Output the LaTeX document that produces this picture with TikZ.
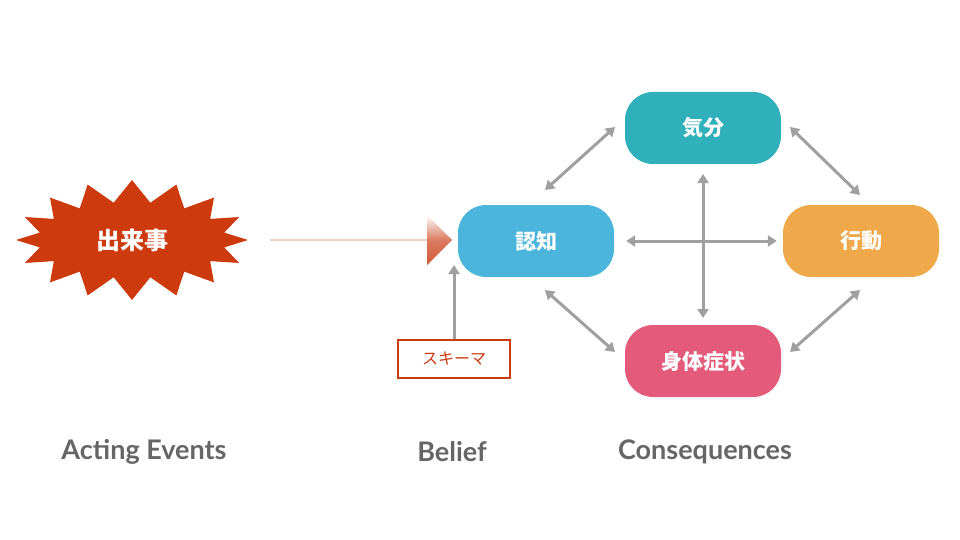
\documentclass[tikz,border=0pt]{standalone}
\usepackage{fontspec}
\setmainfont{Lato}
\newfontfamily\cjk{Noto Sans CJK JP}
\usetikzlibrary{shapes.symbols,arrows.meta,shapes.arrows,calc}
\definecolor{teal1}{HTML}{2FB0BA}
\definecolor{blue1}{HTML}{4BB5DC}
\definecolor{orange1}{HTML}{F0A94A}
\definecolor{pink1}{HTML}{E45A7A}
\definecolor{red1}{HTML}{CC3A0E}
\definecolor{arr}{HTML}{D25A38}
\definecolor{gr}{HTML}{A0A0A0}
\definecolor{txt}{HTML}{666666}
\begin{document}
\begin{tikzpicture}[x=1pt,y=-1pt,
 box/.style={rounded corners=28pt,minimum width=156pt,minimum height=72pt,text=white,font=\cjk\bfseries\fontsize{21}{24}\selectfont},
 dbl/.style={gr,line width=3pt,{Triangle[length=9pt,width=11pt]}-{Triangle[length=9pt,width=11pt]}},
 lab/.style={txt,font=\bfseries\fontsize{27}{30}\selectfont}]
\useasboundingbox (0,0) rectangle (960,540);
\node[starburst,starburst points=16,starburst point height=22pt,random starburst=0,fill=red1,minimum width=232pt,minimum height=120pt,text=white,font=\cjk\bfseries\fontsize{24}{28}\selectfont] (ev) at (132,240) {出来事};
\node[box,fill=teal1] (mood) at (703,128) {気分};
\node[box,fill=blue1] (cog) at (536,241) {認知};
\node[box,fill=orange1] (act) at (861,241) {行動};
\node[box,fill=pink1] (body) at (703,361) {身体症状};
\node[draw=red1,line width=1.5pt,minimum width=112pt,minimum height=38pt,text=red1,font=\cjk\fontsize{16}{18}\selectfont] (sch) at (454,359) {スキーマ};
\node[single arrow,minimum height=182pt,minimum width=50pt,single arrow head extend=13pt,single arrow tip angle=90,left color=white,right color=arr,middle color=arr!80,inner sep=0pt,shading angle=0] (big) at (361,240) {};
\draw[gr,line width=3pt,-{Triangle[length=9pt,width=11pt]}] (sch.north) -- (454,265);
\draw[dbl] (545,190) -- (615,127);
\draw[dbl] (790,127) -- (860,195);
\draw[dbl] (545,290) -- (615,352);
\draw[dbl] (790,352) -- (860,290);
\draw[dbl] ($(cog.east)+(12,0)$) -- ($(act.west)+(-6,0)$);
\draw[dbl] (703,174) -- (703,318);
\node[lab] (l1) at (144,452) {Acting Events};
\node[lab] (l2) at (452,452) {Belief};
\node[lab] (l3) at (705,452) {Consequences};
\end{tikzpicture}
\end{document}
